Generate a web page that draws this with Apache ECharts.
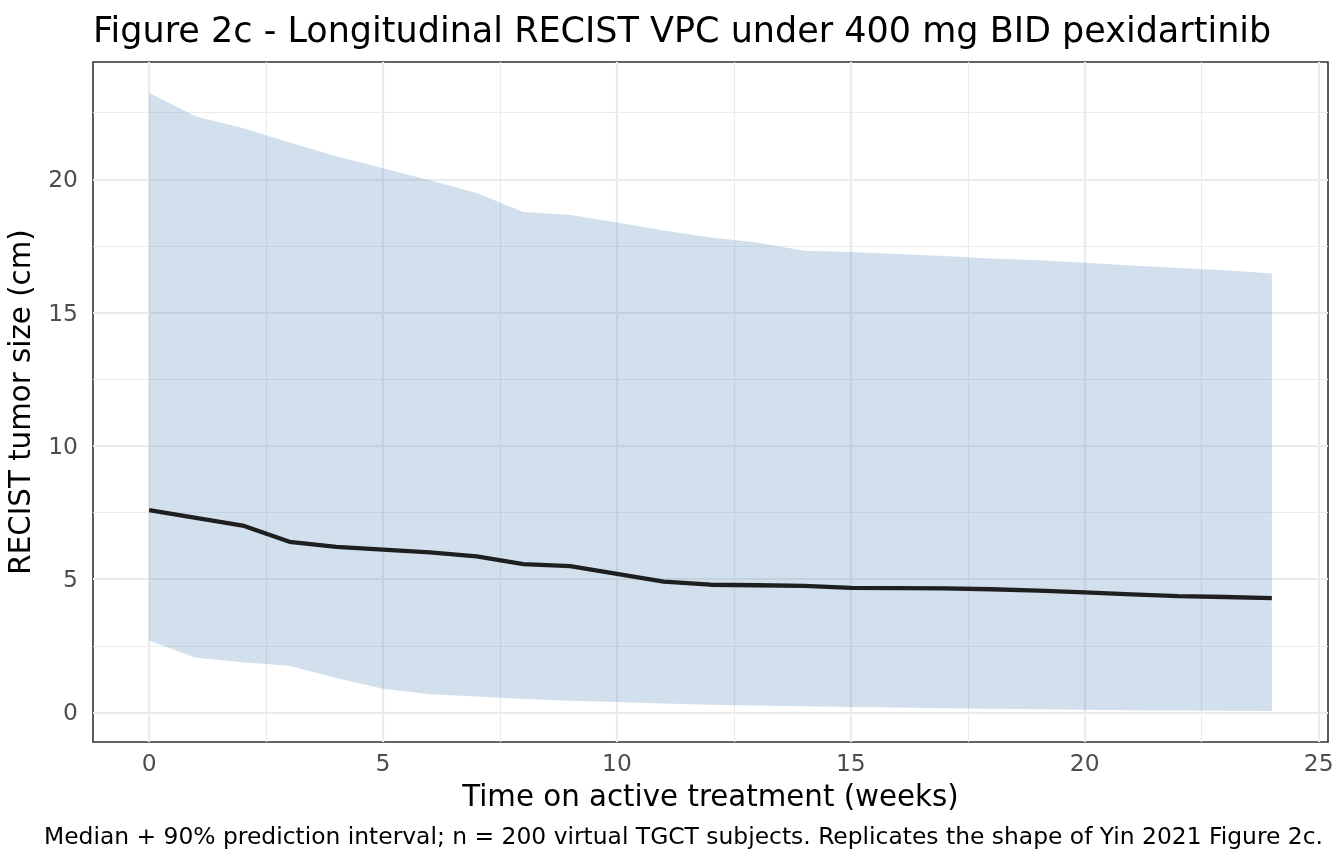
<!DOCTYPE html>
<html>
<head>
<meta charset="utf-8">
<script src="https://cdn.jsdelivr.net/npm/echarts@6/dist/echarts.min.js"></script>
<style>
html,body{margin:0;padding:0;background:#fff;}
#c{width:1344px;height:864px;}
</style>
</head>
<body>
<div id="c"></div>
<script>
const weeks = [0,1,2,3,4,5,6,7,8,9,10,11,12,13,14,15,16,17,18,19,20,21,22,23,24];
const median = [7.59,7.30,7.01,6.40,6.21,6.11,6.00,5.85,5.56,5.49,5.20,4.91,4.79,4.77,4.75,4.67,4.66,4.65,4.62,4.57,4.50,4.43,4.36,4.33,4.29];
const upper = [23.24,22.36,21.92,21.38,20.86,20.41,19.96,19.49,18.77,18.66,18.38,18.08,17.82,17.63,17.32,17.27,17.20,17.12,17.03,16.96,16.87,16.77,16.67,16.59,16.47];
const lower = [2.69,2.05,1.88,1.75,1.29,0.89,0.68,0.60,0.50,0.44,0.39,0.33,0.29,0.26,0.23,0.20,0.18,0.16,0.14,0.12,0.10,0.08,0.07,0.06,0.05];
const xTicks = [0,5,10,15,20,25];
const yTicks = [0,5,10,15,20];
const xMinor = [2.5,7.5,12.5,17.5,22.5];
const yMinor = [2.5,7.5,12.5,17.5,22.5];

const FONT = 'DejaVu Sans';
const chart = echarts.init(document.getElementById('c'), null, {renderer:'canvas'});

const gridLines = [];
xMinor.forEach(v => gridLines.push({xAxis: v, lineStyle:{width:1.1}}));
yMinor.forEach(v => gridLines.push({yAxis: v, lineStyle:{width:1.1}}));
xTicks.forEach(v => gridLines.push({xAxis: v, lineStyle:{width:2.2}}));
yTicks.forEach(v => gridLines.push({yAxis: v, lineStyle:{width:2.2}}));

const bandData = weeks.map((w,i) => [w, lower[i], upper[i]]);

const option = {
  animation: false,
  backgroundColor: '#ffffff',
  title: [
    {
      text: 'Figure 2c - Longitudinal RECIST VPC under 400 mg BID pexidartinib',
      left: 88, top: 10,
      textStyle: {fontFamily: FONT, fontSize: 35, fontWeight: 'normal', color: '#000'}
    },
    {
      text: 'Median + 90% prediction interval; n = 200 virtual TGCT subjects. Replicates the shape of Yin 2021 Figure 2c.',
      right: 16, top: 821,
      textStyle: {fontFamily: FONT, fontSize: 23.4, fontWeight: 'normal', color: '#000'}
    }
  ],
  grid: {left: 93, right: 16, top: 62, bottom: 122, show: true, borderColor: '#333333', borderWidth: 1.6, backgroundColor: 'transparent'},
  xAxis: {
    type: 'value', min: -1.2, max: 25.2,
    name: 'Time on active treatment (weeks)', nameLocation: 'middle', nameGap: 42,
    nameTextStyle: {fontFamily: FONT, fontSize: 29.3, color: '#000'},
    axisLine: {show: false},
    axisTick: {show: true, customValues: xTicks, length: 7, lineStyle: {color: '#333333', width: 2}},
    axisLabel: {show: true, customValues: xTicks, margin: 11, fontFamily: FONT, fontSize: 23.4, color: '#4D4D4D'},
    splitLine: {show: false}
  },
  yAxis: {
    type: 'value', min: -1.11, max: 24.4,
    name: 'RECIST tumor size (cm)', nameLocation: 'middle', nameGap: 50,
    nameTextStyle: {fontFamily: FONT, fontSize: 29.3, color: '#000'},
    axisLine: {show: false},
    axisTick: {show: true, customValues: yTicks, length: 7, lineStyle: {color: '#333333', width: 2}},
    axisLabel: {show: true, customValues: yTicks, margin: 15, verticalAlign: 'top', lineHeight: 4, fontFamily: FONT, fontSize: 23.4, color: '#4D4D4D'},
    splitLine: {show: false}
  },
  series: [
    {
      name: 'grid', type: 'line', data: [], z: 1, silent: true,
      markLine: {silent: true, z: 1, symbol: ['none','none'], label: {show: false},
        lineStyle: {color: '#EBEBEB', type: 'solid'}, emphasis: {disabled: true},
        animation: false, data: gridLines}
    },
    {
      name: 'band', type: 'custom', z: 2, silent: true, clip: true,
      data: bandData,
      encode: {x: 0, y: [1, 2]},
      renderItem: function (params, api) {
        if (params.dataIndex !== 0) return null;
        const pts = [];
        for (let i = 0; i < bandData.length; i++) pts.push(api.coord([bandData[i][0], bandData[i][2]]));
        for (let i = bandData.length - 1; i >= 0; i--) pts.push(api.coord([bandData[i][0], bandData[i][1]]));
        return {type: 'polygon', shape: {points: pts}, style: {fill: 'rgba(70,130,180,0.25)', stroke: null}};
      }
    },
    {
      name: 'median', type: 'line', z: 3,
      data: weeks.map((w,i) => [w, median[i]]),
      symbol: 'none', showSymbol: false,
      lineStyle: {color: '#1F1F1F', width: 4.3, join: 'round', cap: 'butt'}, silent: true
    }
  ]
};
chart.setOption(option);
</script>
</body>
</html>
